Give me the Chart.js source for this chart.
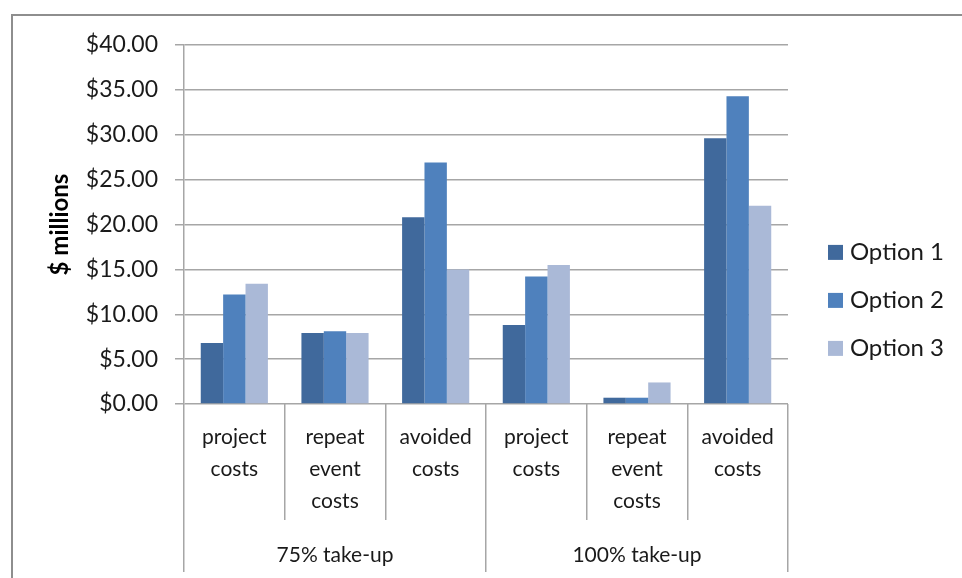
<!DOCTYPE html>
<html>
<head>
<meta charset="utf-8">
<title>Costs by option</title>
<script src="https://cdn.jsdelivr.net/npm/chart.js@4/dist/chart.umd.min.js"></script>
<style>
  html, body { margin: 0; padding: 0; background: #ffffff; }
  #wrap { position: relative; width: 962px; height: 578px; }
</style>
</head>
<body>
<div id="wrap"><canvas id="chart" width="962" height="578"></canvas></div>
<script>
// Cost categories (inner x-axis level) and take-up scenarios (outer level)
const categories = [
  ['project', 'costs'],
  ['repeat', 'event', 'costs'],
  ['avoided', 'costs'],
  ['project', 'costs'],
  ['repeat', 'event', 'costs'],
  ['avoided', 'costs']
];
const scenarios = ['75% take-up', '100% take-up'];

// Values in $ millions, ordered as the categories above
const option1 = [6.8, 7.9, 20.8, 8.8, 0.7, 29.6];
const option2 = [12.2, 8.1, 26.9, 14.2, 0.7, 34.3];
const option3 = [13.4, 7.9, 15.0, 15.5, 2.4, 22.1];

const seriesNames = ['Option 1', 'Option 2', 'Option 3'];
const seriesColors = ['#40699C', '#4F81BD', '#AAB9D7'];

// Y-axis ticks
const yTicks = [0, 5, 10, 15, 20, 25, 30, 35, 40];

const GRID = '#a6a6a6';
const FONT = 'Lato';

// Grey frame around the whole chart
const framePlugin = {
  id: 'frame',
  beforeDraw(chart) {
    const ctx = chart.ctx;
    ctx.save();
    ctx.strokeStyle = '#8e8e8e';
    ctx.lineWidth = 2;
    ctx.strokeRect(12, 15, 1000, 1000);
    ctx.restore();
  }
};

const seriesData = [option1, option2, option3];

new Chart(document.getElementById('chart'), {
  type: 'bar',
  data: {
    labels: categories,
    datasets: seriesNames.map((name, i) => ({
      label: name,
      data: seriesData[i],
      backgroundColor: seriesColors[i],
      borderWidth: 0,
      categoryPercentage: 0.667,
      barPercentage: 1.0
    }))
  },
  options: {
    responsive: false,
    animation: false,
    events: [],
    layout: { padding: { left: 40, right: 18, top: 45, bottom: 0 } },
    plugins: {
      tooltip: { enabled: false },
      legend: {
        position: 'right',
        align: 'start',
        maxWidth: 140,
        title: { display: true, text: '', padding: { top: 157, bottom: 0 } },
        labels: {
          boxWidth: 15,
          boxHeight: 15,
          padding: 24,
          color: '#1a1a1a',
          textAlign: 'right',
          font: { family: FONT, size: 24 }
        }
      }
    },
    scales: {
      y: {
        position: 'left',
        min: 0,
        max: 40,
        afterBuildTicks(scale) {
          scale.ticks = yTicks.map(v => ({ value: v }));
        },
        afterFit(scale) { scale.width = 144; },
        grid: {
          color: GRID,
          lineWidth: 1.5,
          drawTicks: true,
          tickLength: 9,
          tickColor: GRID
        },
        border: { display: true, color: GRID, width: 1.5 },
        ticks: {
          padding: 17,
          color: '#1a1a1a',
          font: { family: FONT, size: 23 },
          callback: v => '$' + Number(v).toFixed(2)
        },
        title: {
          display: true,
          text: '$ millions',
          color: '#000000',
          font: { family: FONT, size: 24, weight: 'bold' },
          padding: { top: 6, bottom: 0 }
        }
      },
      yPad: {
        position: 'right',
        display: true,
        min: 0,
        max: 40,
        afterFit(scale) { scale.width = 16; },
        grid: { display: false },
        border: { display: false },
        ticks: { display: false }
      },
      x: {
        position: 'bottom',
        weight: 0,
        offset: true,
        afterFit(scale) { scale.height = 116; },
        grid: {
          offset: true,
          drawOnChartArea: false,
          drawTicks: true,
          tickLength: 116,
          tickColor: GRID,
          lineWidth: 1.5
        },
        border: { display: false },
        ticks: {
          autoSkip: false,
          maxRotation: 0,
          minRotation: 0,
          padding: -99,
          color: '#1a1a1a',
          font: { family: FONT, size: 21, lineHeight: 1.524 }
        }
      },
      x2: {
        type: 'category',
        position: 'bottom',
        weight: 1,
        labels: scenarios,
        offset: true,
        afterFit(scale) { scale.height = 58; },
        grid: {
          offset: true,
          drawOnChartArea: false,
          drawTicks: true,
          tickLength: 52,
          tickColor: GRID,
          lineWidth: 1.5
        },
        border: { display: false },
        ticks: {
          autoSkip: false,
          maxRotation: 0,
          minRotation: 0,
          padding: -33,
          color: '#1a1a1a',
          font: { family: FONT, size: 21, lineHeight: 1.524 }
        }
      }
    }
  },
  plugins: [framePlugin]
});
</script>
</body>
</html>
